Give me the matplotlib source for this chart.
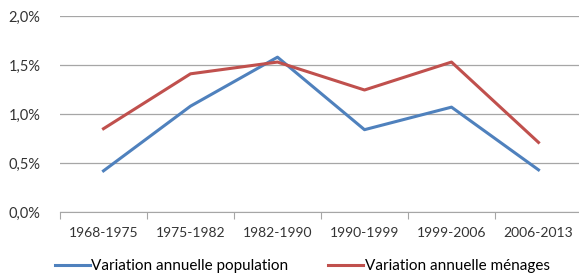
import matplotlib
matplotlib.use("Agg")
import matplotlib.pyplot as plt
from matplotlib.ticker import FuncFormatter, MultipleLocator

categories = ["1968-1975", "1975-1982", "1982-1990", "1990-1999", "1999-2006", "2006-2013"]
population = [0.42, 1.08, 1.58, 0.84, 1.07, 0.43]
menages = [0.85, 1.41, 1.53, 1.245, 1.53, 0.71]

plt.rcParams['font.family'] = ['Lato', 'DejaVu Sans']

fig = plt.figure(figsize=(5.79, 2.74), dpi=100)
ax = fig.add_axes([60/579, 1-212/274, 522/579, (212-16)/274])

x = list(range(len(categories)))
ax.plot(x, population, color="#4F81BD", lw=2.2, label="Variation annuelle population")
ax.plot(x, menages, color="#C0504D", lw=2.2, label="Variation annuelle ménages")

ax.set_xlim(-0.5, len(categories) - 0.5)
ax.set_ylim(0, 2.0)
ax.yaxis.set_major_locator(MultipleLocator(0.5))
ax.yaxis.set_major_formatter(FuncFormatter(lambda v, p: f"{v:.1f}%".replace(".", ",")))
ax.grid(axis="y", color="#A6A6A6", lw=0.9)
ax.set_axisbelow(True)
for s in ["top", "right", "left"]:
    ax.spines[s].set_visible(False)
ax.spines["bottom"].set_color("#A6A6A6")
ax.set_xticks([i - 0.5 for i in range(len(categories) + 1)], minor=False)
ax.set_xticklabels([])
ax.set_xticks(x, minor=True)
ax.set_xticklabels(categories, minor=True)
ax.tick_params(axis="x", which="major", length=5, color="#A6A6A6", direction="out")
ax.tick_params(axis="x", which="minor", length=0, pad=11, labelsize=10, labelcolor="#333333")
ax.tick_params(axis="y", length=0, pad=14, labelsize=10.5, labelcolor="#333333")

fig.legend(loc="center", bbox_to_anchor=(0.522, 1-266/274), ncol=2, frameon=False,
           fontsize=11, handlelength=2.3, handletextpad=0.1, columnspacing=2.6,
           borderaxespad=0, borderpad=0)

fig.savefig("out.png", dpi=100)
